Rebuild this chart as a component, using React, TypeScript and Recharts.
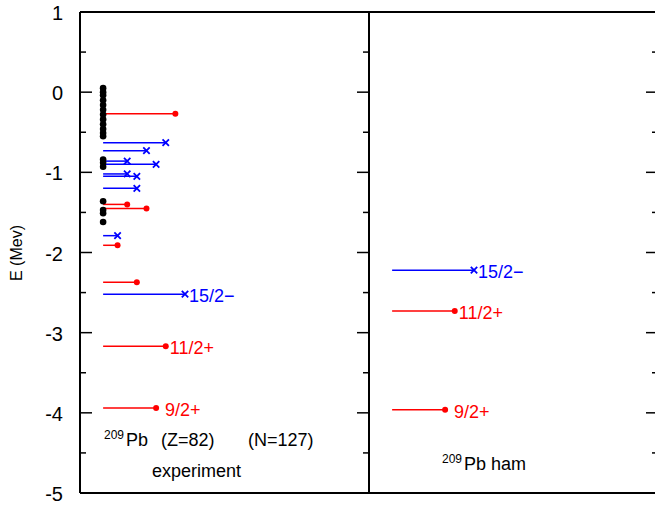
import { ComposedChart, Line, XAxis, YAxis, ReferenceLine, ReferenceDot } from "recharts";

const FONT = '"Liberation Sans", Arial, Helvetica, sans-serif';
const RED = "#ff0000";
const BLUE = "#0000ff";

// experiment, positive parity levels (MeV)
const expPosEnergy = [-0.27, -1.4, -1.45, -1.91, -2.37, -3.17, -3.94];
const expPosSpin = ["13/2+", "3/2+", "7/2+", "1/2+", "5/2+", "11/2+", "9/2+"];
// experiment, negative parity levels
const expNegEnergy = [-0.63, -0.73, -0.86, -0.9, -1.02, -1.05, -1.2, -1.79, -2.52];
const expNegSpin = ["11/2-", "7/2-", "3/2-", "9/2-", "3/2-", "5/2-", "5/2-", "1/2-", "15/2-"];
// experimental levels without assignment
const expOtherEnergy = [
  0.05, 0.0, -0.04, -0.1, -0.16, -0.22, -0.28, -0.34, -0.4, -0.46, -0.51, -0.55,
  -0.84, -0.88, -0.93, -1.36, -1.47, -1.51, -1.62,
];
// ham calculation
const hamEnergy = [-2.22, -2.73, -3.96];
const hamSpin = ["15/2-", "11/2+", "9/2+"];

const labeledSpins = ["15/2-", "11/2+", "9/2+"];

const yTicks = [-5, -4, -3, -2, -1, 0, 1];
const yMinorTicks = [-4.5, -3.5, -2.5, -1.5, -0.5, 0.5];
const Y_DOMAIN = [-5, 1];

// layout
const CHART_W = 665;
const CHART_H = 506;
const Y_AXIS_W = 80;
const MARGIN = { top: 12, right: 7, bottom: 13, left: 0 };
const PLOT_W = CHART_W - MARGIN.right - MARGIN.left - Y_AXIS_W;
const PLOT_H = CHART_H - MARGIN.top - MARGIN.bottom;

// x axis: each panel is 30 units wide, a level's line length is J+1
const PANEL = 30;
const LEVEL_START = 2.4;

const spinJ = (s: string) => {
  const [n, d] = s.replace(/[+-]/, "").split("/");
  return Number(n) / Number(d);
};

const spinLabel = (s: string) => s.replace("-", "\u2212").padStart(5, "\u00a0");

type Level = { e: number; spin: string; panel: number };

const levels: Level[] = [
  ...expPosEnergy.map((e, i) => ({ e, spin: expPosSpin[i], panel: 0 })),
  ...expNegEnergy.map((e, i) => ({ e, spin: expNegSpin[i], panel: 0 })),
  ...hamEnergy.map((e, i) => ({ e, spin: hamSpin[i], panel: 1 })),
];

const levelDot = (color: string, label: string | null) => (props: any) => {
  const { cx, cy, index } = props;
  if (index !== 1) return <g key={`s${index}`} />;
  return (
    <g key="end">
      {color === RED ? (
        <circle cx={cx} cy={cy} r={3} fill={RED} />
      ) : (
        <path
          d={`M${cx - 3.2},${cy - 3.2}L${cx + 3.2},${cy + 3.2}M${cx - 3.2},${cy + 3.2}L${cx + 3.2},${cy - 3.2}`}
          stroke={BLUE}
          strokeWidth={1.8}
        />
      )}
      {label && (
        <text x={cx + 4} y={cy + 8} fill={color} fontSize={18} fontFamily={FONT}>
          {label}
        </text>
      )}
    </g>
  );
};

const YTick = (props: any) => (
  <text x={63} y={props.y} dy={8} textAnchor="end" fontSize={20} fontFamily={FONT} fill="#000">
    {props.payload.value}
  </text>
);

// inward tick marks on the left edge, the panel divider and the right edge
const TickMarks = () => {
  const left = MARGIN.left + Y_AXIS_W;
  const mid = left + PLOT_W / 2;
  const right = left + PLOT_W;
  const toY = (v: number) => MARGIN.top + ((Y_DOMAIN[1] - v) / (Y_DOMAIN[1] - Y_DOMAIN[0])) * PLOT_H;
  const all = [...yTicks.map((v) => ({ v, len: 12 })), ...yMinorTicks.map((v) => ({ v, len: 6 }))];
  return (
    <svg
      width={655}
      height={506}
      style={{ position: "absolute", left: 0, top: 0, pointerEvents: "none" }}
    >
      {all.map(({ v, len }) => {
        const y = toY(v);
        return (
          <g key={v} stroke="#000" strokeWidth={1.5}>
            <line x1={left} x2={left + len} y1={y} y2={y} />
            <line x1={mid - len} x2={mid} y1={y} y2={y} />
            <line x1={right - len} x2={right} y1={y} y2={y} />
          </g>
        );
      })}
    </svg>
  );
};

const frameX = [0, PANEL, 2 * PANEL];

export default function App() {
  return (
    <div style={{ position: "absolute", left: 0, top: 0, width: 655, height: 506, overflow: "hidden", background: "#fff" }}>
      <ComposedChart width={CHART_W} height={CHART_H} margin={MARGIN}>
        <XAxis type="number" dataKey="x" domain={[0, 2 * PANEL]} hide allowDataOverflow />
        <YAxis
          type="number"
          domain={Y_DOMAIN}
          ticks={yTicks}
          width={Y_AXIS_W}
          axisLine={false}
          tickLine={false}
          tick={<YTick />}
          allowDataOverflow
        />

        {/* frame */}
        <ReferenceLine y={1} stroke="#000" strokeWidth={2} />
        <ReferenceLine y={-5} stroke="#000" strokeWidth={2} />
        {frameX.map((x) => (
          <ReferenceLine key={`fx${x}`} x={x} stroke="#000" strokeWidth={2} />
        ))}

        {expOtherEnergy.map((e, i) => (
          <ReferenceDot key={`o${i}`} x={LEVEL_START} y={e} r={3.3} fill="#000" stroke="none" />
        ))}

        {levels.map((lv, i) => {
          const color = lv.spin.endsWith("+") ? RED : BLUE;
          const x0 = lv.panel * PANEL + LEVEL_START;
          const label = labeledSpins.includes(lv.spin) ? spinLabel(lv.spin) : null;
          return (
            <Line
              key={`lv${i}`}
              data={[
                { x: x0, y: lv.e },
                { x: x0 + spinJ(lv.spin) + 1, y: lv.e },
              ]}
              dataKey="y"
              type="linear"
              stroke={color}
              strokeWidth={1.5}
              dot={levelDot(color, label)}
              activeDot={false}
              isAnimationActive={false}
            />
          );
        })}

        <text transform="translate(22,253) rotate(-90)" textAnchor="middle" fontSize={16} fontFamily={FONT} fill="#000">
          E (Mev)
        </text>

        <text fontFamily={FONT} fill="#000">
          <tspan x={104} y={439} fontSize={12}>209</tspan>
          <tspan x={126} y={446} fontSize={18}>Pb</tspan>
          <tspan x={161} y={446} fontSize={18}>(Z=82)</tspan>
          <tspan x={248} y={446} fontSize={18}>(N=127)</tspan>
        </text>
        <text x={152} y={477} fontSize={18} fontFamily={FONT} fill="#000">
          experiment
        </text>
        <text fontFamily={FONT} fill="#000">
          <tspan x={442} y={463} fontSize={12}>209</tspan>
          <tspan x={464} y={470} fontSize={18}>Pb ham</tspan>
        </text>
      </ComposedChart>
      <TickMarks />
    </div>
  );
}
